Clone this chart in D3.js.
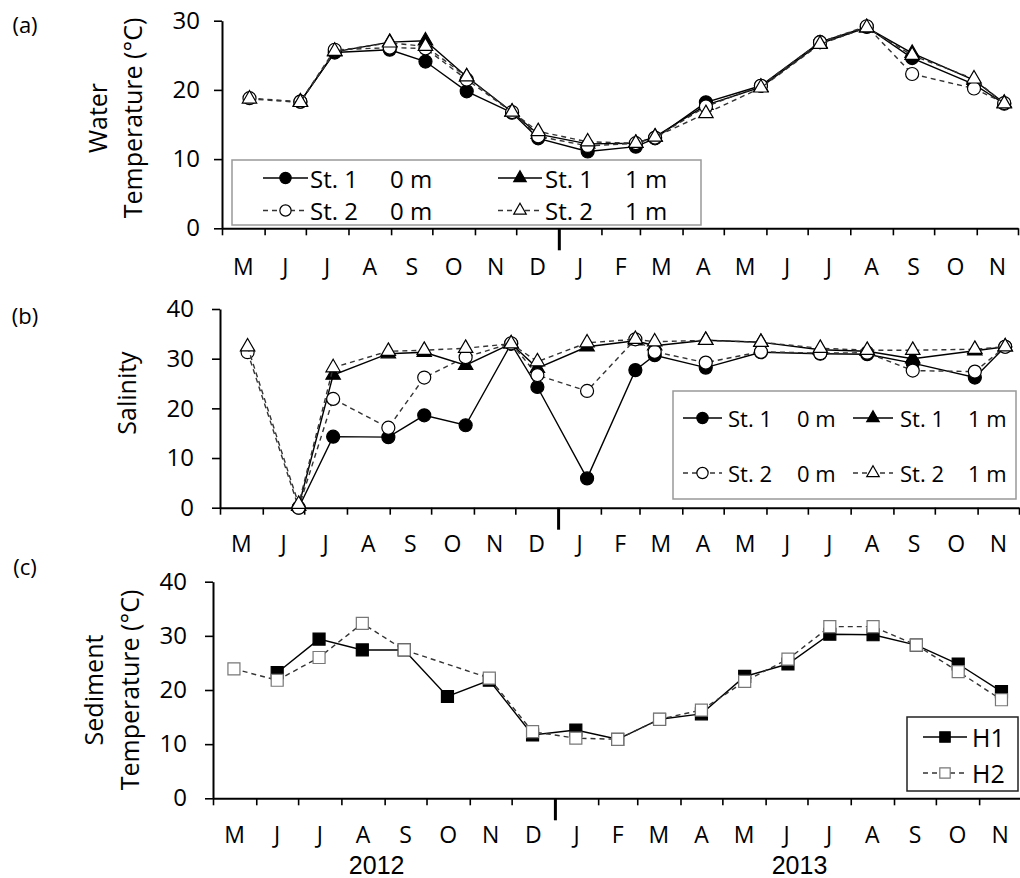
<!DOCTYPE html>
<html>
<head>
<meta charset="utf-8">
<script src="https://cdn.jsdelivr.net/npm/d3@7"></script>
<style>
body { margin: 0; background: #fff; }
svg text { font-family: "Open Sans", sans-serif; fill: #000; }
</style>
</head>
<body>
<div id="container"></div>
<script>
const width = 1020;
const height = 878;

// axis labels
const monthLabels = ["M","J","J","A","S","O","N","D","J","F","M","A","M","J","J","A","S","O","N"];
const yearLabels = ["2012", "2013"];

// sampling days, St. 1 / St. 2
const sampleDates = ["2012-05-21","2012-06-27","2012-07-22","2012-08-31","2012-09-26","2012-10-26",
    "2012-11-28","2012-12-17","2013-01-22","2013-02-26","2013-03-12","2013-04-18","2013-05-28",
    "2013-07-10","2013-08-13","2013-09-15","2013-10-30","2013-11-21"];

// (a) water temperature
const wtSt1_0m = [null,18.3,25.4,25.8,24.1,19.8,16.7,13.0,11.1,11.8,13.0,18.2,20.6,26.9,29.1,24.6,20.8,18.0];
const wtSt1_1m = [null,18.3,25.5,26.9,27.1,21.9,16.8,13.6,12.2,12.3,13.2,17.8,20.4,26.7,29.0,25.3,21.4,18.1];
const wtSt2_0m = [18.8,18.3,25.8,26.1,26.0,21.5,16.8,13.3,11.9,12.3,13.1,17.6,20.6,26.9,29.2,22.3,20.2,18.1];
const wtSt2_1m = [18.7,18.2,25.6,26.8,26.3,21.9,16.8,14.0,12.5,12.3,13.2,16.6,20.3,26.6,29.0,25.0,21.6,18.0];

// (b) salinity
const salSt1_0m = [null,0.0,14.3,14.2,18.6,16.6,33.0,24.3,5.9,27.7,30.7,28.2,31.3,31.0,30.9,29.1,26.2,32.4];
const salSt1_1m = [null,0.3,26.7,31.0,31.3,28.7,33.0,28.1,32.4,33.6,32.6,33.7,33.3,31.8,31.5,30.0,31.6,32.4];
const salSt2_0m = [31.3,0.0,21.9,16.1,26.2,30.3,33.1,26.7,23.5,33.9,31.4,29.2,31.4,31.1,31.2,27.6,27.4,32.4];
const salSt2_1m = [32.4,0.7,28.2,31.5,31.7,32.1,33.0,29.4,33.2,33.9,33.4,33.7,33.3,32.1,31.7,31.7,31.9,32.4];

// (c) sediment temperature, monthly
const sedDates = ["2012-05-16","2012-06-16","2012-07-16","2012-08-16","2012-09-15","2012-10-16",
    "2012-11-15","2012-12-16","2013-01-16","2013-02-15","2013-03-17","2013-04-16","2013-05-17",
    "2013-06-17","2013-07-17","2013-08-17","2013-09-17","2013-10-17","2013-11-17"];
const sedH1 = [null,23.2,29.4,27.4,27.4,18.8,21.8,11.7,12.6,10.9,14.6,15.6,22.5,24.8,30.3,30.2,28.3,24.8,19.7];
const sedH2 = [23.9,21.8,26.0,32.3,27.4,null,22.2,12.3,11.1,10.9,14.6,16.3,21.6,25.7,31.7,31.7,28.3,23.4,18.2];

const parseDay = d3.timeParse("%Y-%m-%d");
const tStart = new Date(2012, 4, 1);
const tEnd = new Date(2013, 11, 1);

const svg = d3.select("div#container").append("svg")
    .attr("width", width)
    .attr("height", height);

// marker styles
const styles = {
    st1_0: {dash: null, stroke: "#000", shape: d3.symbolCircle, size: 133, fill: "#000", mstroke: "#000"},
    st1_1: {dash: null, stroke: "#000", shape: d3.symbolTriangle, size: 90, fill: "#000", mstroke: "#000"},
    st2_0: {dash: "5,4", stroke: "#333", shape: d3.symbolCircle, size: 133, fill: "#fff", mstroke: "#000"},
    st2_1: {dash: "5,4", stroke: "#333", shape: d3.symbolTriangle, size: 90, fill: "#fff", mstroke: "#000"},
    h1: {dash: null, stroke: "#000", shape: d3.symbolSquare, size: 144, fill: "#000", mstroke: "#000"},
    h2: {dash: "5,4", stroke: "#333", shape: d3.symbolSquare, size: 144, fill: "#fff", mstroke: "#777"}
};

function drawPanel(p) {
    const x = d3.scaleTime().domain([tStart, tEnd]).range([p.left, p.right]);
    const y = d3.scaleLinear().domain([0, p.ymax]).range([p.bottom, p.top]);
    const g = svg.append("g");

    // x axis, one tick per month
    const xg = g.append("g")
        .attr("transform", "translate(0," + p.bottom + ")")
        .call(d3.axisBottom(x).ticks(d3.timeMonth.every(1)).tickFormat("").tickSize(7).tickSizeOuter(0));
    xg.select(".domain").attr("stroke-width", 2);
    xg.selectAll(".tick line").attr("stroke-width", 1.6);
    xg.selectAll(".tick line").filter(d => d.getMonth() === 0 && d > tStart)
        .attr("y2", 22).attr("stroke-width", 3);

    const monthStarts = d3.timeMonth.range(tStart, tEnd);
    g.selectAll(".mlab").data(monthLabels).enter().append("text")
        .attr("x", (d, i) => (x(monthStarts[i]) + x(d3.timeMonth.offset(monthStarts[i], 1))) / 2)
        .attr("y", p.labelY)
        .attr("text-anchor", "middle")
        .attr("dominant-baseline", "central")
        .style("font-size", "23px")
        .text(d => d);

    // y axis
    const yg = g.append("g")
        .attr("transform", "translate(" + p.left + ",0)")
        .call(d3.axisLeft(y).tickValues(d3.range(0, p.ymax + 1, 10)).tickSize(8).tickSizeOuter(0).tickPadding(p.pad));
    yg.select(".domain").attr("stroke-width", 2);
    yg.selectAll(".tick line").attr("stroke-width", 1.6);
    yg.selectAll(".tick text").style("font-size", "24px").style("font-family", "Open Sans");

    // panel tag and axis title
    g.append("text").attr("x", 25).attr("y", p.tagY)
        .attr("text-anchor", "middle").attr("dominant-baseline", "central")
        .style("font-size", "22px").text(p.tag);
    p.title.forEach(t => {
        g.append("text")
            .attr("transform", "translate(" + t.x + "," + p.titleY + ") rotate(-90)")
            .attr("text-anchor", "middle").attr("dominant-baseline", "central")
            .style("font-size", "25px").text(t.text);
    });

    // series
    p.series.forEach(s => {
        const st = styles[s.style];
        const pts = s.dates.map((d, i) => ({date: parseDay(d), v: s.values[i]}))
            .filter(d => d.v !== null);
        g.append("path").datum(pts)
            .attr("d", d3.line().x(d => x(d.date)).y(d => y(d.v)))
            .attr("fill", "none")
            .attr("stroke", st.stroke)
            .attr("stroke-width", 1.4)
            .attr("stroke-dasharray", st.dash);
        g.selectAll(null).data(pts).enter().append("path")
            .attr("transform", d => "translate(" + x(d.date) + "," + y(d.v) + ")")
            .attr("d", d3.symbol(st.shape, st.size))
            .attr("fill", st.fill)
            .attr("stroke", st.mstroke)
            .attr("stroke-width", 1.2);
    });

    // legend
    const lg = p.legend;
    g.append("rect")
        .attr("x", lg.x0).attr("y", lg.y0)
        .attr("width", lg.x1 - lg.x0).attr("height", lg.y1 - lg.y0)
        .attr("fill", "#fff").attr("stroke", lg.border).attr("stroke-width", 1.5);
    lg.items.forEach(it => {
        const st = styles[it.style];
        g.append("line")
            .attr("x1", it.lx0).attr("x2", it.lx1).attr("y1", it.y).attr("y2", it.y)
            .attr("stroke", st.stroke).attr("stroke-width", 1.4)
            .attr("stroke-dasharray", st.dash);
        g.append("path")
            .attr("transform", "translate(" + (it.lx0 + it.lx1) / 2 + "," + it.y + ")")
            .attr("d", d3.symbol(st.shape, st.size * 0.75))
            .attr("fill", st.fill).attr("stroke", st.mstroke).attr("stroke-width", 1.2);
        it.text.forEach((t, k) => {
            g.append("text")
                .attr("x", it.tx[k]).attr("y", it.y)
                .attr("dominant-baseline", "central")
                .style("font-size", lg.font + "px")
                .text(t);
        });
    });

    return x;
}

drawPanel({
    left: 222, right: 1018, top: 20.7, bottom: 228.3, ymax: 30, labelY: 266, pad: 14,
    tag: "(a)", tagY: 24, titleY: 118,
    title: [{x: 97, text: "Water"}, {x: 132, text: "Temperature (°C)"}],
    series: [
        {dates: sampleDates, values: wtSt1_0m, style: "st1_0"},
        {dates: sampleDates, values: wtSt1_1m, style: "st1_1"},
        {dates: sampleDates, values: wtSt2_0m, style: "st2_0"},
        {dates: sampleDates, values: wtSt2_1m, style: "st2_1"}
    ],
    legend: {x0: 232, x1: 701, y0: 160, y1: 225, border: "#999", font: 24, items: [
        {style: "st1_0", y: 178, lx0: 263, lx1: 308, tx: [310, 390], text: ["St. 1", "0 m"]},
        {style: "st1_1", y: 178, lx0: 498, lx1: 542, tx: [545, 625], text: ["St. 1", "1 m"]},
        {style: "st2_0", y: 210.5, lx0: 263, lx1: 308, tx: [310, 390], text: ["St. 2", "0 m"]},
        {style: "st2_1", y: 210.5, lx0: 498, lx1: 542, tx: [545, 625], text: ["St. 2", "1 m"]}
    ]}
});

drawPanel({
    left: 220, right: 1019, top: 309, bottom: 507.7, ymax: 40, labelY: 543, pad: 18,
    tag: "(b)", tagY: 315, titleY: 393,
    title: [{x: 126, text: "Salinity"}],
    series: [
        {dates: sampleDates, values: salSt1_0m, style: "st1_0"},
        {dates: sampleDates, values: salSt1_1m, style: "st1_1"},
        {dates: sampleDates, values: salSt2_0m, style: "st2_0"},
        {dates: sampleDates, values: salSt2_1m, style: "st2_1"}
    ],
    legend: {x0: 673, x1: 1016, y0: 391, y1: 499, border: "#999", font: 22, items: [
        {style: "st1_0", y: 418, lx0: 683, lx1: 722, tx: [728, 797], text: ["St. 1", "0 m"]},
        {style: "st1_1", y: 418, lx0: 853, lx1: 893, tx: [900, 968], text: ["St. 1", "1 m"]},
        {style: "st2_0", y: 473, lx0: 683, lx1: 722, tx: [728, 797], text: ["St. 2", "0 m"]},
        {style: "st2_1", y: 473, lx0: 853, lx1: 893, tx: [900, 968], text: ["St. 2", "1 m"]}
    ]}
});

const xc = drawPanel({
    left: 213, right: 1021, top: 581.7, bottom: 798.3, ymax: 40, labelY: 834, pad: 18,
    tag: "(c)", tagY: 566, titleY: 690,
    title: [{x: 93, text: "Sediment"}, {x: 129, text: "Temperature (°C)"}],
    series: [
        {dates: sedDates, values: sedH1, style: "h1"},
        {dates: sedDates, values: sedH2, style: "h2"}
    ],
    legend: {x0: 907, x1: 1018, y0: 717, y1: 791, border: "#222", font: 25, items: [
        {style: "h1", y: 737, lx0: 923, lx1: 967, tx: [972], text: ["H1"]},
        {style: "h2", y: 773, lx0: 923, lx1: 967, tx: [972], text: ["H2"]}
    ]}
});

// year labels under panel (c)
const yearMid = [new Date(2012, 8, 1), new Date(2013, 6, 1)];
svg.selectAll(".ylab").data(yearLabels).enter().append("text")
    .attr("x", (d, i) => xc(yearMid[i]) - 8)
    .attr("y", 865)
    .attr("text-anchor", "middle")
    .attr("dominant-baseline", "central")
    .style("font-family", "Liberation Sans")
    .style("font-size", "25px")
    .text(d => d);
</script>
</body>
</html>
